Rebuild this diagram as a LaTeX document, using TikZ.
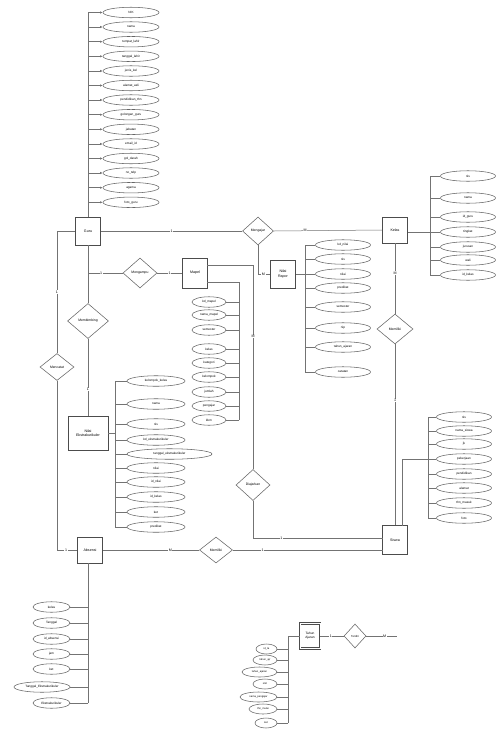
\documentclass[tikz,border=0pt]{standalone}
\usepackage{fontspec}
\setmainfont{Liberation Sans}
\usetikzlibrary{shapes.geometric,arrows.meta}
\begin{document}
\begin{tikzpicture}[x=1pt,y=-1pt]
\tikzset{
 ln/.style={draw=black!55, line width=0.5pt},
 ent/.style={draw=black!70, line width=0.65pt, rectangle, inner sep=0pt, minimum width=25pt, minimum height=28pt, font=\fontsize{3.6}{4.2}\selectfont, align=center, fill=white},
 rel/.style={draw=black!60, line width=0.55pt, diamond, inner sep=0pt, font=\fontsize{3.4}{4}\selectfont, fill=white},
 attr/.style={draw=black!60, line width=0.55pt, ellipse, inner sep=0pt, minimum height=10.5pt, font=\fontsize{3.1}{3.6}\selectfont, fill=white},
 card/.style={font=\fontsize{3.6}{4}\selectfont, fill=white, inner sep=0.6pt},
 dot/.style={-{Latex[length=2.5pt,width=2.2pt]}}
}
\fill[white] (0,0) rectangle (497,737);
\useasboundingbox (0,0) rectangle (497,737);

% ---------- Guru ----------
\node[ent] (guru) at (88,231) {Guru};
\coordinate (gtop) at (88,12.5);
\draw[ln] (gtop) -- (guru.north);
\foreach \y/\t [count=\i] in {12.5/NIK, 27/nama, 41.7/tempat\_lahir, 56.3/tanggal\_lahir, 71/jenis\_kel, 85.5/alamat\_asli, 100/pendidikan\_thn, 114.7/golongan\_guru, 129.3/jabatan, 144/email\_id, 158.5/gol\_darah, 173/no\_telp, 187.7/agama, 202.3/foto\_guru}{
  \node[attr, minimum width=56pt] (ga\i) at (131,\y) {\t};
  \coordinate (gs\i) at (88,\y);
  \draw[ln,dot] (gs\i) -- (ga\i.west);
}

% ---------- Kelas ----------
\node[ent, minimum height=26pt] (kelas) at (395,230) {Kelas};
\coordinate (kv1) at (430,176);
\coordinate (kv2) at (430,275);
\draw[ln] (kv1) -- (kv2);
\foreach \y/\t [count=\i] in {176/nis, 198/nama, 217/id\_guru, 232/tingkat, 247/jurusan, 260/wali, 275/id\_kelas}{
  \node[attr, minimum width=55pt] (ka\i) at (468,\y) {\t};
  \coordinate (ks\i) at (430,\y);
  \draw[ln] (ks\i) -- (ka\i.west);
}
\draw[ln] (kelas.east |- ks4) -- (ks4);

% ---------- Mengajar ----------
\node[rel, minimum width=31pt, minimum height=28pt] (mengajar) at (258,231) {Mengajar};
\draw[ln] (guru.east) -- node[card, pos=0.5]{1} (mengajar.west);
\draw[ln] (mengajar.east) -- node[card, pos=0.29]{M} (kelas.west);

% ---------- Nilai Rapor ----------
\node[ent] (rapor) at (283,274) {Nilai\\Rapor};
\coordinate (mjb) at (258,274);
\draw[ln] (mengajar.south) -- (mjb) -- node[card, pos=0.45]{M} (rapor.west);
\coordinate (rv1) at (305,245);
\coordinate (rv2) at (305,372);
\coordinate (rvm) at (305,274);
\draw[ln] (rv1) -- (rv2);
\draw[ln] (rapor.east) -- (rvm);
\foreach \y/\t [count=\i] in {245/kd\_nilai, 259/nis, 274/nilai, 288/predikat, 307/semester, 328/nip, 347/tahun\_ajaran, 372/catatan}{
  \node[attr, minimum width=55pt] (ra\i) at (343,\y) {\t};
  \coordinate (rs\i) at (305,\y);
  \draw[ln] (rs\i) -- (ra\i.west);
}

% ---------- Mapel ----------
\node[ent, minimum height=30pt] (mapel) at (195,273) {Mapel};
\node[rel, minimum width=34pt, minimum height=30pt] (mengampu) at (140,273) {Mengampu};
\coordinate (gj) at (88,273);
\draw[ln] (gj) -- node[card, pos=0.38]{1} (mengampu.west);
\draw[ln] (mengampu.east) -- node[card, pos=0.5]{1} (mapel.west);
\coordinate (mp1) at (207,282);
\coordinate (mp2) at (239,282);
\coordinate (mp3) at (239,420);
\draw[ln] (mp1) -- (mp2) -- (mp3);
\foreach \y/\t [count=\i] in {302/kd\_mapel, 315/nama\_mapel, 330/semester, 349/kelas, 363/kategori, 377/kelompok, 392/jumlah, 406/pengajar, 420/kkm}{
  \node[attr, minimum width=34pt] (ma\i) at (209,\y) {\t};
  \coordinate (ms\i) at (239,\y);
  \draw[ln] (ms\i) -- (ma\i.east);
}

% ---------- Siswa ----------
\node[ent, minimum height=29pt] (siswa) at (395,540) {Siswa};
\node[rel, minimum width=36pt, minimum height=30pt] (memiliki1) at (395,329) {Memiliki};
\draw[ln] (kelas.south) -- node[card, pos=0.42]{M} (memiliki1.north);
\draw[ln] (memiliki1.south) -- node[card, pos=0.31]{1} (siswa.north);
\coordinate (sv1) at (402,525.5);
\coordinate (sv2) at (402,459);
\draw[ln] (sv1) -- (sv2);
\coordinate (sc1) at (428,417);
\coordinate (sc2) at (428,518);
\draw[ln] (sc1) -- (sc2);
\foreach \y/\t [count=\i] in {417/nis, 431/nama\_siswa, 444/jk, 459/pekerjaan, 474/pendidikan, 488/alamat, 503/thn\_masuk, 518/foto}{
  \node[attr, minimum width=55pt] (sa\i) at (464,\y) {\t};
  \coordinate (ss\i) at (428,\y);
  \draw[ln] (ss\i) -- (sa\i.west);
}
\draw[ln] (sv2) -- (ss4);

% ---------- Diajarkan ----------
\node[rel, minimum width=34pt, minimum height=31pt] (diajarkan) at (253,485) {Diajarkan};
\coordinate (dj1) at (207,265);
\coordinate (dj2) at (253,265);
\draw[ln] (dj1) -- (dj2) -- node[card, pos=0.35]{M} (diajarkan.north);
\coordinate (dj3) at (253,538);
\coordinate (dj4) at (382.5,538);
\draw[ln] (diajarkan.south) -- (dj3) -- node[card, pos=0.22]{1} (dj4);

% ---------- Absensi ----------
\node[ent, minimum height=26pt] (absensi) at (90,550) {Absensi};
\node[rel, minimum width=33pt, minimum height=26pt] (memiliki2) at (216,550) {Memiliki};
\draw[ln] (absensi.east) -- node[card, pos=0.7]{M} (memiliki2.west);
\coordinate (mm2) at (382.5,550);
\draw[ln] (memiliki2.east) -- node[card, pos=0.2]{1} (mm2);

% left line Guru -- Mencatat -- Absensi
\node[rel, minimum width=34pt, minimum height=27pt] (mencatat) at (57,367) {Mencatat};
\coordinate (l1) at (57,231);
\coordinate (l2) at (57,550);
\draw[ln] (guru.west) -- (l1) -- node[card, pos=0.5]{1} (mencatat.north);
\draw[ln] (mencatat.south) -- (l2) -- node[card, pos=0.45]{1} (absensi.west);

\coordinate (av1) at (88,563);
\coordinate (av2) at (88,703);
\draw[ln] (av1) -- (av2);
\foreach \y/\w/\t [count=\i] in {607/37/kelas, 623/37/Tanggal, 639/37/id\_absensi, 654/37/jam, 669/37/ket, 687/56/Tanggal\_Ekstrakurikuler, 703/37/Ekstrakurikuler}{
  \node[attr, minimum width=\w pt] (aa\i) at (70-\w/2,\y) {\t};
  \coordinate (as\i) at (88,\y);
  \draw[ln] (as\i) -- (aa\i.east);
}

% ---------- Ekstrakurikuler ----------
\node[rel, minimum width=41pt, minimum height=35pt] (membina) at (88,321) {Membimbing};
\node[ent, minimum width=40pt, minimum height=34pt] (ekskul) at (88,433) {Nilai\\Ekstrakurikuler};
\draw[ln] (guru.south) -- (membina.north);
\draw[ln] (membina.south) -- node[card, pos=0.66]{1} (ekskul.north);
\coordinate (ev1) at (115,381);
\coordinate (ev2) at (115,527);
\coordinate (evm) at (115,433);
\draw[ln] (ev1) -- (ev2);
\draw[ln] (ekskul.east) -- (evm);
\foreach \y/\w/\t [count=\i] in {381/58/kelompok\_kelas, 404/58/nama, 424/58/nis, 440/58/kd\_ekstrakurikuler, 454/85/tanggal\_ekstrakurikuler, 468/58/nilai, 482/58/id\_nilai, 497/58/id\_kelas, 512/58/ket, 527/58/predikat}{
  \node[attr, minimum width=\w pt] (ea\i) at (127+\w/2,\y) {\t};
  \coordinate (es\i) at (115,\y);
  \draw[ln] (es\i) -- (ea\i.west);
}

% ---------- Tahun Ajaran ----------
\node[ent, minimum width=20pt, minimum height=25pt, double, double distance=0.8pt, font=\fontsize{3.2}{3.8}\selectfont] (tahun) at (310,636) {Tahun\\Ajaran};
\node[rel, minimum width=22pt, minimum height=24pt, font=\fontsize{2.8}{3.2}\selectfont] (terdiri) at (355,636) {Terdiri};
\coordinate (tl) at (288,636);
\coordinate (tb) at (288,723);
\draw[ln] (tl) -- (tahun.west);
\draw[ln] (tl) -- (tb);
\draw[ln] (tahun.east) -- node[card, pos=0.45]{1} (terdiri.west);
\coordinate (tr) at (397,636);
\draw[ln] (terdiri.east) -- node[card, pos=0.6]{M} (tr);
\foreach \y/\w/\t [count=\i] in {649/21/id\_ta, 660/24/tahun\_ajr, 672/35/tahun\_ajaran, 684/24/smt, 697/37/nama\_pengajar, 709/28/thn\_mulai, 723/22/ket}{
  \node[attr, minimum width=\w pt, minimum height=10pt, font=\fontsize{2.6}{3}\selectfont] (ta\i) at (277-\w/2,\y) {\t};
  \coordinate (ts\i) at (288,\y);
  \draw[ln] (ts\i) -- (ta\i.east);
}
\end{tikzpicture}
\end{document}
